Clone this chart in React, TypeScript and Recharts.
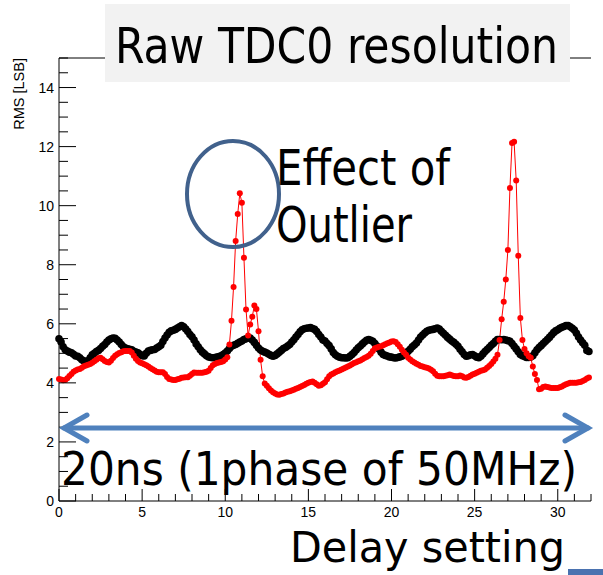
import { Line, LineChart, ReferenceLine, XAxis, YAxis } from 'recharts';

// delay setting scanned in 1/8 steps over 32 units
const delaySettings = Array.from({ length: 256 }, (_, i) => i * 0.125);

// black markers
const rmsRunA = [
  5.49, 5.38, 5.22, 5.12, 5.08, 5.04, 5.02, 4.97,
  4.91, 4.9, 4.85, 4.78, 4.74, 4.73, 4.75, 4.85,
  4.95, 5.0, 5.06, 5.1, 5.16, 5.24, 5.3, 5.38,
  5.45, 5.49, 5.52, 5.51, 5.45, 5.38, 5.3, 5.22,
  5.18, 5.15, 5.14, 5.12, 5.07, 5.04, 5.02, 4.97,
  4.92, 4.91, 5.0, 5.08, 5.1, 5.12, 5.13, 5.18,
  5.22, 5.27, 5.4, 5.52, 5.62, 5.71, 5.76, 5.78,
  5.81, 5.86, 5.9, 5.94, 5.9, 5.82, 5.74, 5.64,
  5.56, 5.45, 5.32, 5.22, 5.12, 5.04, 4.98, 4.92,
  4.88, 4.86, 4.85, 4.86, 4.87, 4.89, 4.92, 4.96,
  5.01, 5.08, 5.16, 5.24, 5.27, 5.3, 5.34, 5.38,
  5.42, 5.47, 5.49, 5.52, 5.52, 5.45, 5.37, 5.27,
  5.18, 5.11, 5.07, 5.04, 5.01, 4.97, 4.93, 4.9,
  4.93, 4.98, 5.04, 5.1, 5.16, 5.2, 5.25, 5.3,
  5.38, 5.46, 5.55, 5.64, 5.73, 5.8, 5.83, 5.85,
  5.86, 5.87, 5.84, 5.81, 5.74, 5.64, 5.55, 5.45,
  5.42, 5.33, 5.26, 5.15, 5.03, 4.95, 4.9, 4.87,
  4.85, 4.85, 4.84, 4.85, 4.9, 4.96, 5.03, 5.11,
  5.19, 5.25, 5.32, 5.38, 5.44, 5.47, 5.44, 5.41,
  5.33, 5.25, 5.15, 5.04, 4.96, 4.93, 4.91, 4.88,
  4.87, 4.85, 4.84, 4.86, 4.88, 4.9, 4.95, 5.0,
  5.07, 5.14, 5.22, 5.28, 5.35, 5.45, 5.55, 5.62,
  5.69, 5.75, 5.78, 5.8, 5.81, 5.83, 5.86, 5.82,
  5.75, 5.68, 5.61, 5.54, 5.48, 5.42, 5.37, 5.31,
  5.24, 5.14, 5.05, 4.96, 4.9, 4.92, 4.95, 4.96,
  4.92, 4.87, 4.85, 4.9, 4.98, 5.06, 5.13, 5.2,
  5.27, 5.33, 5.41, 5.47, 5.47, 5.46, 5.47, 5.45,
  5.43, 5.41, 5.33, 5.24, 5.15, 5.05, 4.96, 4.92,
  4.89, 4.86, 4.86, 4.88, 4.92, 5.02, 5.12, 5.2,
  5.26, 5.33, 5.4, 5.47, 5.54, 5.62, 5.7, 5.76,
  5.8, 5.85, 5.88, 5.91, 5.94, 5.94, 5.9, 5.85,
  5.79, 5.68, 5.55, 5.45, 5.36, 5.27, 5.1, 5.06,
];

// red markers with the two outlier spikes
const rmsRunB = [
  4.13, 4.11, 4.09, 4.1, 4.16, 4.23, 4.3, 4.38,
  4.42, 4.45, 4.47, 4.51, 4.56, 4.59, 4.61, 4.64,
  4.68, 4.73, 4.78, 4.83, 4.85, 4.8, 4.74, 4.71,
  4.69, 4.75, 4.84, 4.92, 4.97, 5.01, 5.04, 5.07,
  5.08, 5.08, 5.08, 5.03, 4.92, 4.82, 4.74, 4.69,
  4.66, 4.63, 4.6, 4.55, 4.5, 4.46, 4.42, 4.38,
  4.36, 4.36, 4.36, 4.3, 4.2, 4.13, 4.11, 4.1,
  4.1, 4.12, 4.14, 4.17, 4.18, 4.19, 4.19, 4.24,
  4.3, 4.35, 4.34, 4.34, 4.34, 4.34, 4.36, 4.38,
  4.41, 4.5, 4.6, 4.64, 4.67, 4.69, 4.71, 4.73,
  4.79, 4.87, 5.3, 6.1, 7.25, 8.8, 9.72, 10.42,
  10.1, 8.24, 6.48, 5.6, 5.98, 6.24, 6.62, 6.5,
  5.75, 4.78, 4.22, 3.98, 3.9, 3.82, 3.74, 3.68,
  3.64, 3.61, 3.6, 3.62, 3.64, 3.67, 3.7, 3.72,
  3.74, 3.77, 3.8, 3.83, 3.86, 3.89, 3.93, 3.97,
  4.0, 4.03, 4.05, 4.0, 3.95, 3.9, 3.92, 3.97,
  4.02, 4.12, 4.22, 4.28, 4.32, 4.36, 4.39, 4.42,
  4.45, 4.49, 4.52, 4.55, 4.59, 4.63, 4.67, 4.7,
  4.73, 4.76, 4.8, 4.84, 4.88, 4.92, 4.99, 5.08,
  5.17, 5.2, 5.22, 5.24, 5.27, 5.31, 5.34, 5.37,
  5.4, 5.41, 5.38, 5.31, 5.22, 5.12, 5.03, 4.95,
  4.85, 4.79, 4.73, 4.69, 4.65, 4.61, 4.57, 4.55,
  4.53, 4.51, 4.49, 4.44, 4.39, 4.31, 4.24, 4.22,
  4.22, 4.22, 4.24, 4.26, 4.28, 4.26, 4.23, 4.22,
  4.22, 4.25, 4.22, 4.18, 4.17, 4.2, 4.24, 4.28,
  4.31, 4.34, 4.38, 4.41, 4.43, 4.45, 4.51, 4.57,
  4.64, 4.72, 4.82, 4.95, 5.45, 6.15, 6.75, 7.5,
  8.5, 10.6, 12.12, 12.16, 10.85, 8.3, 6.2, 5.45,
  5.15, 5.0, 4.9, 4.85, 4.55, 4.3, 4.1, 3.78,
  3.8, 3.86, 3.88, 3.86, 3.84, 3.83, 3.83, 3.83,
  3.83, 3.85, 3.88, 3.92, 3.95, 3.98, 4.0, 4.0,
  4.0, 4.0, 4.02, 4.03, 4.06, 4.1, 4.15, 4.18,
];

const xTicks = Array.from({ length: 33 }, (_, i) => i);
const yTicks = Array.from({ length: 31 }, (_, i) => i * 0.5);

const rows = delaySettings.map((d, i) => ({ delay: d, runA: rmsRunA[i], runB: rmsRunB[i] }));

const axisFont = '"Liberation Sans", Arial, sans-serif';
const bigFont = '"DejaVu Sans Condensed", "DejaVu Sans", sans-serif';
const blue = '#4f81bd';

function XTick({ x, y, payload }: any) {
  const v = Number(payload.value);
  const major = v % 5 === 0;
  return (
    <g>
      <line x1={x} x2={x} y1={y} y2={y - (major ? 12 : 7)} stroke="#000" strokeWidth={1} />
      {major && (
        <text x={x} y={y + 16} textAnchor="middle" fontSize={14} fontFamily={axisFont} fill="#000">
          {v}
        </text>
      )}
    </g>
  );
}

function YTick({ x, y, payload }: any) {
  const v = Number(payload.value);
  const major = v % 2 === 0;
  return (
    <g>
      <line x1={x} x2={x + (major ? 17 : 9)} y1={y} y2={y} stroke="#000" strokeWidth={1} />
      {major && (
        <text x={x - 5} y={y + 5} textAnchor="end" fontSize={14} fontFamily={axisFont} fill="#000">
          {v}
        </text>
      )}
    </g>
  );
}

export default function App() {
  return (
    <div style={{ position: 'absolute', left: 0, top: 0, width: 603, height: 575, background: '#fff' }}>
      <LineChart width={603} height={575} data={rows} margin={{ top: 58, right: 12, bottom: 0, left: 0 }}>
        <XAxis
          dataKey="delay"
          type="number"
          domain={[0, 32]}
          ticks={xTicks}
          interval={0}
          height={74}
          tickSize={0}
          tickMargin={0}
          tickLine={false}
          axisLine={{ stroke: '#000' }}
          tick={<XTick />}
        />
        <YAxis
          type="number"
          domain={[0, 15]}
          ticks={yTicks}
          interval={0}
          width={59}
          tickSize={0}
          tickMargin={0}
          tickLine={false}
          axisLine={{ stroke: '#000' }}
          tick={<YTick />}
          label={{
            content: ({ viewBox }: any) => (
              <text
                transform={`translate(${viewBox.x + 24}, ${viewBox.y}) rotate(-90)`}
                textAnchor="end"
                fontSize={14.5}
                fontFamily={axisFont}
                fill="#000"
              >
                RMS [LSB]
              </text>
            ),
          }}
        />
        <ReferenceLine y={15} stroke="#000" />
        <Line
          dataKey="runA"
          type="linear"
          stroke="#000"
          strokeWidth={1}
          dot={{ r: 3.8, fill: '#000', stroke: 'none' }}
          activeDot={false}
          isAnimationActive={false}
        />
        <Line
          dataKey="runB"
          type="linear"
          stroke="#ff0000"
          strokeWidth={1}
          dot={{ r: 3, fill: '#ff0000', stroke: 'none' }}
          activeDot={false}
          isAnimationActive={false}
        />
      </LineChart>

      {/* slide annotations */}
      <svg
        width={603}
        height={575}
        style={{ position: 'absolute', left: 0, top: 0, pointerEvents: 'none' }}
      >
        <rect x={105} y={4} width={465} height={78} fill="#f2f2f2" />
        <text x={115} y={63} fontSize={50} fontFamily={bigFont} textLength={443} lengthAdjust="spacingAndGlyphs">
          Raw TDC0 resolution
        </text>

        <ellipse cx={233} cy={194} rx={46} ry={53} fill="none" stroke="#41618c" strokeWidth={4} />
        <text x={276} y={185} fontSize={49} fontFamily={bigFont} textLength={174} lengthAdjust="spacingAndGlyphs">
          Effect of
        </text>
        <text x={276} y={242} fontSize={49} fontFamily={bigFont} textLength={136} lengthAdjust="spacingAndGlyphs">
          Outlier
        </text>

        <g stroke={blue} strokeWidth={5} strokeLinecap="round" fill="none">
          <line x1={64} y1={428} x2={588} y2={428} />
          <polyline points="87,415 64,428 87,441" />
          <polyline points="565,415 588,428 565,441" />
        </g>
        <text x={61} y={485} fontSize={46} fontFamily={bigFont} textLength={516} lengthAdjust="spacingAndGlyphs">
          20ns (1phase of 50MHz)
        </text>

        <text x={290} y={562} fontSize={43} fontFamily={bigFont} textLength={275} lengthAdjust="spacingAndGlyphs">
          Delay setting
        </text>
        <rect x={568} y={569} width={35} height={6} fill="#4a72b0" />
      </svg>
    </div>
  );
}
